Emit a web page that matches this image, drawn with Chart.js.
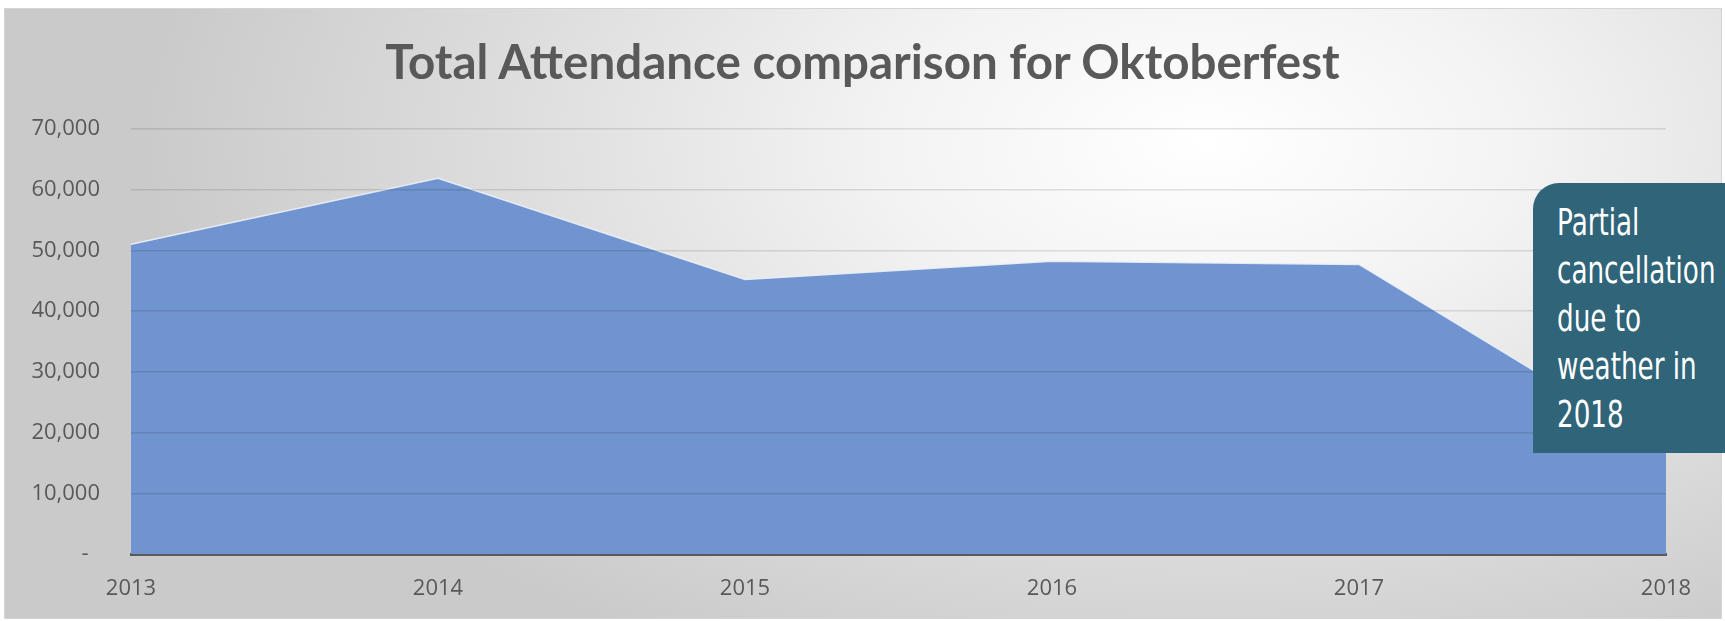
<!DOCTYPE html>
<html>
<head>
<meta charset="utf-8">
<script src="https://cdn.jsdelivr.net/npm/chart.js@4/dist/chart.umd.min.js"></script>
<style>
    html, body { margin: 0; padding: 0; background: #ffffff; }
    #frame {
        position: absolute;
        left: 4px; top: 8px;
        width: 1716px; height: 609px;
        border: 1px solid #d4d4d4;
        background: radial-gradient(ellipse 62% 95% at 70% 22%, #ffffff 0%, #f3f3f3 30%, #dcdcdc 68%, #cacaca 100%);
    }
    #frame canvas { display: block; }
    #title {
        position: absolute;
        left: 0; top: 32px;
        width: 1725px;
        text-align: center;
        color: #595959;
        font-family: Lato, "Open Sans", sans-serif;
        font-weight: bold;
        font-size: 47.5px;
        line-height: 57px;
    }
    #note {
        position: absolute;
        left: 1533px; top: 183px;
        width: 192px; height: 270px;
        box-sizing: border-box;
        padding: 15px 0 0 24px;
        background: #2f6479;
        border-top-left-radius: 26px;
        color: #ffffff;
        font-family: "DejaVu Sans", sans-serif;
        font-size: 38px;
        line-height: 48px;
        white-space: nowrap;
    }
    #note span {
        display: inline-block;
        transform: scaleX(0.69);
        transform-origin: left top;
    }
</style>
</head>
<body>
<div id="frame"><canvas id="attendanceChart" width="1716" height="609"></canvas></div>
<div id="title">Total Attendance comparison for Oktoberfest</div>
<div id="note"><span>Partial<br>cancellation<br>due to<br>weather in<br>2018</span></div>
<script>
// yearly attendance figures
const years = ["2013", "2014", "2015", "2016", "2017", "2018"];
const attendance = [51000, 61900, 45200, 48200, 47700, 17000];
const yMax = 70000;
const yStep = 10000;

const textGrey = "#595959";
const tickFont = { family: "'Open Sans', sans-serif", size: 22 };

new Chart(document.getElementById("attendanceChart"), {
    type: "line",
    data: {
        labels: years,
        datasets: [{
            label: "Total Attendance",
            data: attendance,
            fill: "origin",
            backgroundColor: "#7094d0",
            borderColor: "rgba(235, 240, 250, 0.9)",
            borderWidth: 1.5,
            tension: 0,
            pointRadius: 0
        }]
    },
    options: {
        responsive: false,
        animation: false,
        // top padding leaves room for the heading above the plot
        layout: { padding: { left: 0, right: 55, top: 120, bottom: 0 } },
        plugins: {
            legend: { display: false },
            tooltip: { enabled: false },
            title: { display: false }
        },
        scales: {
            x: {
                offset: false,
                grid: { display: false, drawTicks: false },
                border: { display: true, color: "#5a5a5a", width: 3 },
                ticks: {
                    color: textGrey,
                    font: tickFont,
                    padding: 22,
                    maxRotation: 0
                },
                afterFit: (scale) => { scale.height = 64; }
            },
            y: {
                min: 0,
                max: yMax,
                grid: {
                    z: 1,
                    color: (ctx) => ctx.tick.value === 0 ? "rgba(0,0,0,0)" : "rgba(0, 0, 0, 0.11)",
                    lineWidth: 1.5,
                    drawTicks: false
                },
                border: { display: false },
                ticks: {
                    stepSize: yStep,
                    color: textGrey,
                    font: tickFont,
                    padding: 31,
                    callback: (v) => v === 0 ? "-  " : v.toLocaleString("en-US")
                },
                afterFit: (scale) => { scale.width = 126; }
            }
        }
    }
});
</script>
</body>
</html>
